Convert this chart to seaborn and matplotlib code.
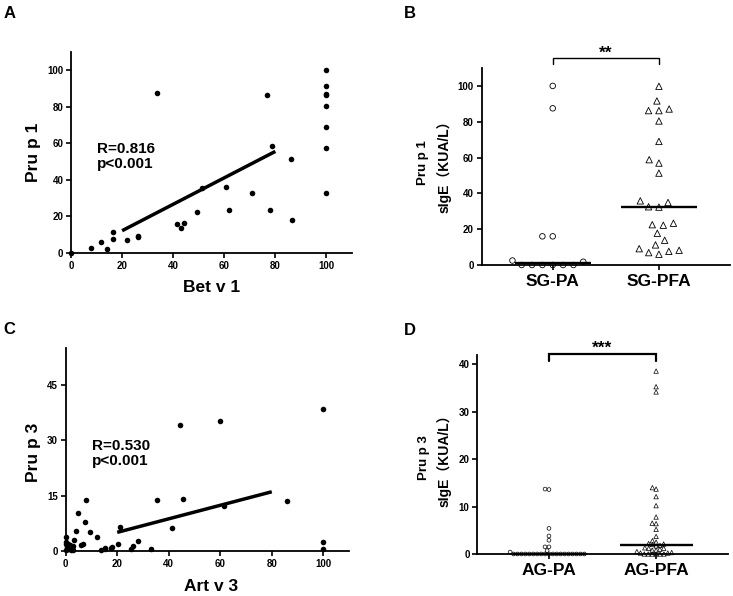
import numpy as np
import pandas as pd
import matplotlib
matplotlib.use("Agg")
import matplotlib.pyplot as plt
import seaborn as sns

# ---------------- data ----------------
# Panel A: Bet v 1 vs Pru p 1
betv1 = [0, 7.8, 11.6, 13.9, 16.3, 16.4, 22.1, 26.3, 26.3, 33.7, 41.3, 43.1, 44.2,
         49.4, 51.2, 60.8, 62.0, 71.0, 76.7, 77.8, 78.7, 86.0, 86.7,
         100, 100, 100, 100, 100, 100, 100, 100]
prup1_A = [0, 2.7, 6.0, 2.2, 7.8, 11.5, 7.1, 8.6, 9.1, 87.4, 16.0, 13.8, 16.4,
           22.6, 35.3, 35.9, 23.5, 32.8, 86.2, 23.3, 58.8, 51.7, 18.0,
           100, 91.4, 87.0, 86.2, 80.5, 69.2, 57.2, 32.6]
fitA_x = [20, 80]
fitA_y = [12.2, 55.6]
textA = "R=0.816\np<0.001"

# Panel B: Pru p 1 sIgE by group
cats_B = ["SG-PA", "SG-PFA"]
sg_pa = [100, 87.5, 16, 16, 0, 0, 0, 0, 0, 2.5, 1.8, 0]
sg_pfa = [99.8, 91.6, 87.1, 86.2, 86.2, 80.4, 69.0, 58.8, 56.9, 51.3, 35.8, 34.9,
          32.5, 32.3, 23.3, 22.5, 22.2, 17.7, 13.8, 11.2, 9.1, 8.2, 7.6, 6.9, 6.0]
sig_B = "**"
ylab1_B = "Pru p 1"
ylab2_B = "sIgE（KUA/L）"

# Panel C: Art v 3 vs Pru p 3
artv3 = [100, 100, 100, 44.5, 59.9, 35.3, 45.5, 86.0, 61.5, 41.1, 21.0, 20.5, 33.3,
         28.0, 26.2, 25.2, 18.0, 17.4, 15.4, 15.2, 13.9, 12.2, 8.0, 4.7, 7.4, 9.5,
         4.0, 3.2, 6.9, 6.0, 0, 0, 0, 0.5, 0, 1.0, 1.5, 2.0, 2.5, 3.0, 0.8, 2.7]
prup3_C = [38.5, 2.4, 0.45, 34.2, 35.3, 13.7, 14.1, 13.6, 12.1, 6.3, 6.4, 1.8, 0.45,
           2.8, 1.35, 0.6, 1.2, 0.9, 0.8, 0.45, 0.2, 3.8, 13.7, 10.2, 7.8, 5.2,
           5.4, 3.0, 1.8, 1.6, 3.7, 2.5, 1.8, 1.0, 0.3, 0.5, 1.6, 0.2, 0.9, 0.3, 2.0, 1.4]
fitC_x = [20, 80]
fitC_y = [5.05, 16.05]
textC = "R=0.530\np<0.001"

# Panel D: Pru p 3 sIgE by group
cats_D = ["AG-PA", "AG-PFA"]
ag_pa = [13.7, 13.6, 5.4, 3.8, 2.9, 1.5, 1.5, 0.7, 0.4,
         0, 0, 0, 0, 0, 0, 0, 0, 0, 0, 0, 0, 0, 0, 0, 0, 0, 0, 0]
ag_pfa = [38.6, 35.3, 34.2, 14.0, 13.7, 12.1, 10.2, 7.8, 6.5, 6.4, 5.2, 3.7, 2.8,
          2.5, 2.2, 2.1, 2.0, 1.8, 1.7, 1.3, 1.2, 1.2, 1.0, 0.8, 0.8, 0.5, 0.3,
          0.2, 0.2, 0, 0, 0, 0, 0, 0]
sig_D = "***"
ylab1_D = "Pru p 3"
ylab2_D = "sIgE（KUA/L）"

# ---------------- style ----------------
sns.set_theme(style="ticks")
plt.rcParams["font.family"] = ["Liberation Sans", "Noto Sans CJK SC", "DejaVu Sans"]
plt.rcParams["font.weight"] = "bold"
plt.rcParams["axes.labelweight"] = "bold"
plt.rcParams["axes.linewidth"] = 1.3
plt.rcParams["xtick.major.width"] = 1.2
plt.rcParams["ytick.major.width"] = 1.2
plt.rcParams["xtick.major.size"] = 3.5
plt.rcParams["ytick.major.size"] = 3.5
plt.rcParams["axes.edgecolor"] = "black"
plt.rcParams["xtick.color"] = "black"
plt.rcParams["ytick.color"] = "black"
plt.rcParams["text.color"] = "black"
plt.rcParams["axes.labelcolor"] = "black"

fig = plt.figure(figsize=(7.33, 5.96), dpi=100)
fig.patch.set_facecolor("white")

axA = fig.add_axes([0.0969, 0.5755, 0.3833, 0.3373])
axB = fig.add_axes([0.657, 0.5554, 0.339, 0.3305])
axC = fig.add_axes([0.0896, 0.0755, 0.3866, 0.3406])
axD = fig.add_axes([0.651, 0.0705, 0.342, 0.3339])

for ax in (axA, axB, axC, axD):
    sns.despine(ax=ax)
    ax.set_facecolor("white")


def scatter_panel(ax, x, y, fx, fy, xlabel, ylabel, txt, ymax, yticks,
                  ylab_pos, xlab_pos, txt_pos):
    df = pd.DataFrame({xlabel: x, ylabel: y})
    sns.scatterplot(data=df, x=xlabel, y=ylabel, ax=ax, color="black", s=16,
                    linewidth=0, clip_on=False, zorder=3)
    ax.plot(fx, fy, color="black", lw=2.5, solid_capstyle="butt", zorder=4)
    ax.set_xlim(0, 110)
    ax.set_ylim(0, ymax)
    ax.set_xticks([0, 20, 40, 60, 80, 100])
    ax.set_yticks(yticks)
    ax.tick_params(labelsize=7, pad=2)
    ax.set_xlabel(xlabel, fontsize=12.5, fontweight="bold")
    ax.set_ylabel(ylabel, fontsize=12.5, fontweight="bold")
    ax.xaxis.set_label_coords(*xlab_pos)
    ax.xaxis.label.set_va("center")
    ax.yaxis.set_label_coords(*ylab_pos)
    ax.yaxis.label.set_va("center")
    ax.text(txt_pos[0], txt_pos[1], txt, transform=ax.transAxes, ha="left",
            va="top", fontsize=11, fontweight="bold", linespacing=1.1)


scatter_panel(axA, betv1, prup1_A, fitA_x, fitA_y, "Bet v 1", "Pru p 1", textA,
              110, [0, 20, 40, 60, 80, 100], (-0.135, 0.502), (0.5, -0.174),
              (0.0925, 0.552))
scatter_panel(axC, artv3, prup3_C, fitC_x, fitC_y, "Art v 3", "Pru p 3", textC,
              55, [0, 15, 30, 45], (-0.115, 0.488), (0.513, -0.177),
              (0.092, 0.552))

swarm_colls = []


def dot_panel(ax, cats, groups, markers, layout_pt, draw_pts, lw, ymax, yticks,
              ylab1, ylab2, ylab_x, ylab_y, sig, bracket, med_half, bracket_lw):
    for cat, vals, mk, dp in zip(cats, groups, markers, draw_pts):
        df = pd.DataFrame({"group": [cat] * len(vals), "value": vals})
        n0 = len(ax.collections)
        sns.swarmplot(data=df, x="group", y="value", order=cats, marker=mk,
                      size=layout_pt, color="black", linewidth=lw, ax=ax,
                      clip_on=False, zorder=3)
        for c in list(ax.collections[n0:]):
            if len(c.get_offsets()) == 0:
                c.remove()
            else:
                swarm_colls.append((c, dp))
    for i, vals in enumerate(groups):
        m = np.median(vals)
        ax.plot([i - med_half, i + med_half], [m, m], color="black", lw=1.7,
                solid_capstyle="butt", zorder=4, clip_on=False)
    ax.set_xlim(-0.67, 1.67)
    ax.set_ylim(0, ymax)
    ax.set_yticks(yticks)
    ax.tick_params(axis="y", labelsize=7, pad=2)
    ax.tick_params(axis="x", labelsize=12.5, pad=3)
    ax.set_xlabel("")
    ax.set_ylabel(ylab1, fontsize=9.5, fontweight="bold")
    ax.yaxis.set_label_coords(ylab_x[0], ylab_y)
    ax.yaxis.label.set_va("center")
    ax.text(ylab_x[1], ylab_y, ylab2, rotation=90, transform=ax.transAxes,
            ha="center", va="center", fontsize=10, fontweight="bold")
    y0, y1 = bracket
    ax.plot([0, 0, 1, 1], [y0, y1, y1, y0], color="black", lw=bracket_lw,
            clip_on=False, solid_joinstyle="miter")
    ax.text(0.5, y1 + (ymax * 0.005), sig, ha="center", va="baseline",
            fontsize=12.5, fontweight="bold", transform=ax.transData)


dot_panel(axB, cats_B, [sg_pa, sg_pfa], ["o", "^"], 6.5, [4.0, 4.6], 0.6, 110,
          [0, 20, 40, 60, 80, 100], ylab1_B, ylab2_B, (-0.236, -0.152), 0.518,
          sig_B, (112.0, 115.4), 0.36, 1.0)
dot_panel(axD, cats_D, [ag_pa, ag_pfa], ["o", "^"], 2.2, [2.7, 3.2], 0.5, 42,
          [0, 10, 20, 30, 40], ylab1_D, ylab2_D, (-0.211, -0.133), 0.487,
          sig_D, (40.7, 42.3), 0.34, 1.6)

# panel letters
for letter, x, y in [("A", 4 / 733, 1 - 18.3 / 596), ("B", 404 / 733, 1 - 18.3 / 596),
                     ("C", 3 / 733, 1 - 334 / 596), ("D", 404 / 733, 1 - 335 / 596)]:
    fig.text(x, y, letter, fontsize=12, fontweight="bold", ha="left", va="baseline")

# compute swarm layout once, then freeze it and shrink markers
fig.canvas.draw()
for c, dp in swarm_colls:
    if "draw" in c.__dict__:
        del c.draw
    c.set_sizes([dp ** 2])
    c.set_facecolor("none")
    c.set_edgecolor("black")

fig.savefig("out.png", dpi=100, facecolor="white")
